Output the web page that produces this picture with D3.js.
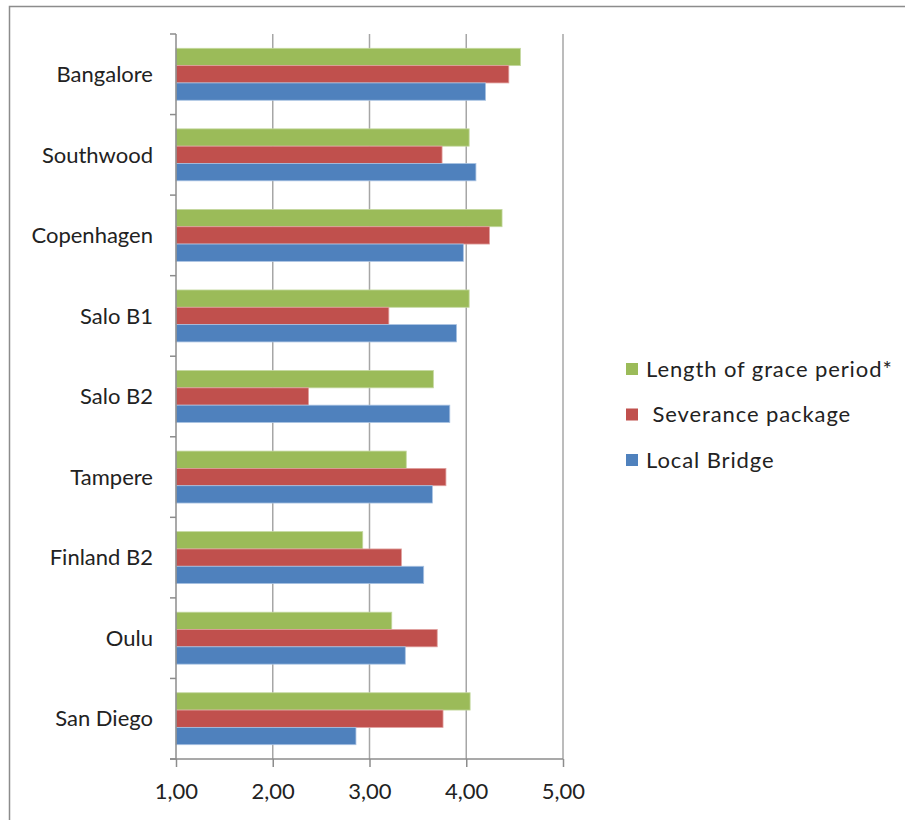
<!DOCTYPE html>
<html>
<head>
<meta charset="utf-8">
<script src="https://cdn.jsdelivr.net/npm/d3@7/dist/d3.min.js"></script>
<style>
  html, body { margin: 0; padding: 0; background: #fff; }
  svg { display: block; font-family: Lato, "Open Sans", sans-serif; }
</style>
</head>
<body>
<svg id="chart" width="905" height="820"></svg>
<script>
// Survey sites, top to bottom
const categories = ["Bangalore", "Southwood", "Copenhagen", "Salo B1", "Salo B2", "Tampere", "Finland B2", "Oulu", "San Diego"];

// Series, drawn top to bottom inside each site
const seriesNames = ["Length of grace period*", " Severance package", "Local Bridge"];
const graceValues = [4.56, 4.03, 4.37, 4.03, 3.66, 3.38, 2.93, 3.23, 4.04];
const severanceValues = [4.44, 3.75, 4.24, 3.20, 2.37, 3.79, 3.33, 3.70, 3.76];
const bridgeValues = [4.20, 4.10, 3.97, 3.90, 3.83, 3.65, 3.56, 3.37, 2.86];
const seriesColors = ["#9BBB59", "#C0504D", "#4F81BD"];
const seriesStrokes = ["#c4d8a0", "#e0a09e", "#a9c2e2"];

const xTicks = [1, 2, 3, 4, 5];
const xTickLabels = ["1,00", "2,00", "3,00", "4,00", "5,00"];

const seriesValues = [graceValues, severanceValues, bridgeValues];

const textColor = "#222";
const fontSize = 22;

const svg = d3.select("#chart");

// Outer chart frame
svg.append("rect")
  .attr("x", 9.5).attr("y", 6.5)
  .attr("width", 920).attr("height", 830)
  .attr("fill", "none").attr("stroke", "#8c8c8c").attr("stroke-width", 1.5);

const plot = { left: 176, right: 563, top: 34, bottom: 759 };

const x = d3.scaleLinear().domain([1, 5]).range([plot.left, plot.right]);
const y = d3.scaleBand().domain(categories).range([plot.top, plot.bottom]).paddingInner(0.355).paddingOuter(0.1775);
const ySub = d3.scaleBand().domain(d3.range(seriesNames.length)).range([0, y.bandwidth()]);

// Band boundaries for category tick marks
const yEdges = d3.scaleBand().domain(categories).range([plot.top, plot.bottom]);

// Vertical gridlines
svg.append("g")
  .selectAll("line")
  .data(xTicks.slice(1))
  .join("line")
  .attr("x1", d => x(d)).attr("x2", d => x(d))
  .attr("y1", plot.top).attr("y2", plot.bottom)
  .attr("stroke", "#a6a6a6").attr("stroke-width", 1.5);

// Bars
const groups = svg.append("g")
  .selectAll("g")
  .data(categories)
  .join("g")
  .attr("transform", d => `translate(0,${y(d)})`);

groups.selectAll("rect")
  .data((d, i) => seriesValues.map((vals, s) => ({ s, v: vals[i] })))
  .join("rect")
  .attr("x", x(1))
  .attr("y", d => ySub(d.s))
  .attr("width", d => x(d.v) - x(1))
  .attr("height", ySub.bandwidth())
  .attr("fill", d => seriesColors[d.s])
  .attr("stroke", d => seriesStrokes[d.s])
  .attr("stroke-width", 0.8);

// Category axis
const yAxisG = svg.append("g");
yAxisG.append("line")
  .attr("x1", plot.left).attr("x2", plot.left)
  .attr("y1", plot.top).attr("y2", plot.bottom)
  .attr("stroke", "#8c8c8c").attr("stroke-width", 1.5);
const edgeVals = categories.map(c => yEdges(c)).concat([plot.bottom]);
yAxisG.selectAll("line.tick")
  .data(edgeVals)
  .join("line")
  .attr("class", "tick")
  .attr("x1", plot.left - 6).attr("x2", plot.left)
  .attr("y1", d => d).attr("y2", d => d)
  .attr("stroke", "#8c8c8c").attr("stroke-width", 1.5);
yAxisG.selectAll("text")
  .data(categories)
  .join("text")
  .attr("x", 153)
  .attr("y", d => yEdges(d) + yEdges.bandwidth() / 2)
  .attr("dy", "0.35em")
  .attr("text-anchor", "end")
  .attr("font-size", fontSize)
  .attr("fill", textColor)
  .text(d => d);

// Value axis
const xAxis = d3.axisBottom(x)
  .tickValues(xTicks)
  .tickFormat((d, i) => xTickLabels[i])
  .tickSize(8)
  .tickPadding(16);
const xAxisG = svg.append("g")
  .attr("transform", `translate(0,${plot.bottom})`)
  .call(xAxis);
xAxisG.select(".domain").attr("stroke", "#8c8c8c").attr("stroke-width", 1.5)
  .attr("d", `M${plot.left - 6},0H${plot.right}`);
xAxisG.selectAll(".tick line").attr("stroke", "#8c8c8c").attr("stroke-width", 1.5);
xAxisG.selectAll(".tick text")
  .attr("font-size", fontSize)
  .attr("font-family", "Lato, 'Open Sans', sans-serif")
  .attr("fill", textColor);

// Legend
const legend = svg.append("g")
  .selectAll("g")
  .data(seriesNames)
  .join("g")
  .attr("transform", (d, i) => `translate(626,${369 + i * 45.5})`);
legend.append("rect")
  .attr("x", 0).attr("y", -6)
  .attr("width", 12).attr("height", 12)
  .attr("fill", (d, i) => seriesColors[i]);
legend.append("text")
  .attr("x", 20).attr("y", 0)
  .attr("dy", "0.35em")
  .attr("font-size", fontSize)
  .attr("fill", textColor)
  .attr("letter-spacing", 0.9)
  .style("white-space", "pre")
  .text(d => d);
</script>
</body>
</html>
